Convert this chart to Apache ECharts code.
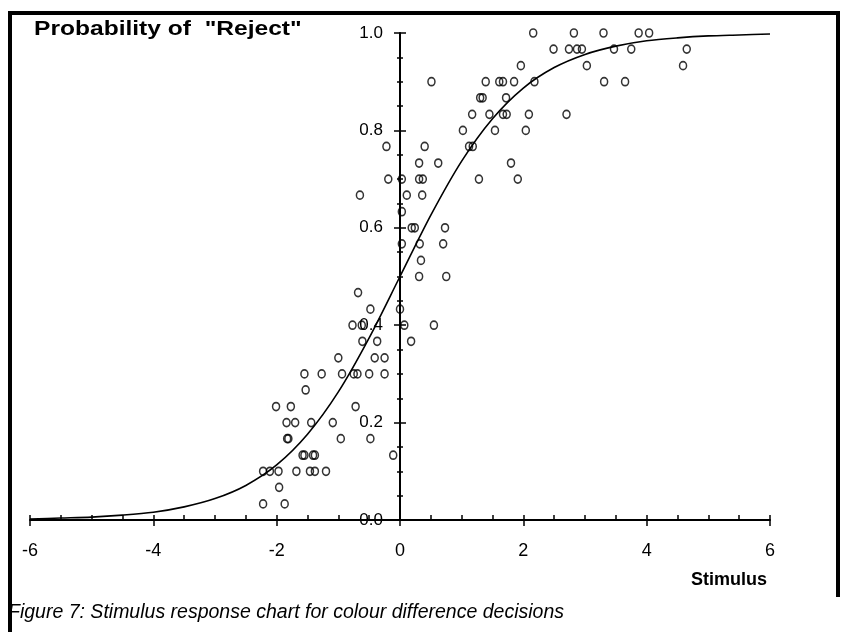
<!DOCTYPE html>
<html>
<head>
<meta charset="utf-8">
<script src="https://cdn.jsdelivr.net/npm/echarts@6/dist/echarts.min.js"></script>
<style>
  html, body { margin: 0; padding: 0; background: #fff; }
  #chart { width: 845px; height: 632px; }
</style>
</head>
<body>
<div id="chart"></div>
<script>
// observed proportions of "reject" answers, [stimulus, proportion]
var observed = [
    [-2.22, 0.033], [-1.87, 0.033],
    [-1.96, 0.067],
    [-2.22, 0.1], [-2.11, 0.1], [-1.97, 0.1], [-1.68, 0.1], [-1.46, 0.1], [-1.38, 0.1], [-1.2, 0.1],
    [-1.58, 0.133], [-1.55, 0.133], [-1.41, 0.133], [-1.38, 0.133], [-0.11, 0.133],
    [-1.83, 0.167], [-1.81, 0.167], [-0.96, 0.167], [-0.48, 0.167],
    [-1.84, 0.2], [-1.7, 0.2], [-1.44, 0.2], [-1.09, 0.2],
    [-2.01, 0.233], [-1.77, 0.233], [-0.72, 0.233],
    [-1.53, 0.267],
    [-1.55, 0.3], [-1.27, 0.3], [-0.94, 0.3], [-0.75, 0.3], [-0.69, 0.3], [-0.5, 0.3], [-0.25, 0.3],
    [-1.0, 0.333], [-0.41, 0.333], [-0.25, 0.333],
    [-0.61, 0.367], [-0.37, 0.367], [0.18, 0.367],
    [-0.77, 0.4], [-0.62, 0.4], [0.07, 0.4], [0.55, 0.4],
    [-0.48, 0.433], [0.0, 0.433],
    [-0.68, 0.467],
    [0.31, 0.5], [0.75, 0.5],
    [0.34, 0.533],
    [0.03, 0.567], [0.32, 0.567], [0.7, 0.567],
    [0.19, 0.6], [0.24, 0.6], [0.73, 0.6],
    [0.03, 0.633],
    [-0.65, 0.667], [0.11, 0.667], [0.36, 0.667],
    [-0.19, 0.7], [0.03, 0.7], [0.31, 0.7], [0.37, 0.7], [1.28, 0.7], [1.91, 0.7],
    [0.31, 0.733], [0.62, 0.733], [1.8, 0.733],
    [-0.22, 0.767], [0.4, 0.767], [1.12, 0.767], [1.18, 0.767],
    [1.02, 0.8], [1.54, 0.8], [2.04, 0.8],
    [1.17, 0.833], [1.45, 0.833], [1.67, 0.833], [1.73, 0.833], [2.09, 0.833], [2.7, 0.833],
    [1.3, 0.867], [1.34, 0.867], [1.72, 0.867],
    [0.51, 0.9], [1.39, 0.9], [1.61, 0.9], [1.67, 0.9], [1.85, 0.9], [2.18, 0.9], [3.31, 0.9], [3.65, 0.9],
    [1.96, 0.933], [3.03, 0.933], [4.59, 0.933],
    [2.49, 0.967], [2.74, 0.967], [2.87, 0.967], [2.95, 0.967], [3.47, 0.967], [3.75, 0.967], [4.65, 0.967],
    [2.16, 1.0], [2.82, 1.0], [3.3, 1.0], [3.87, 1.0], [4.04, 1.0]
];

// fitted response curve
var curveX = [-6, -5.5, -5, -4.5, -4, -3.5, -3, -2.5, -2, -1.5, -1, -0.5, 0,
    0.5, 1, 1.5, 2, 2.5, 3, 3.5, 4, 4.5, 5, 5.5, 6];
var curveP = [0.002, 0.004, 0.006, 0.01, 0.016, 0.027, 0.044, 0.071, 0.113, 0.176, 0.263, 0.374, 0.5,
    0.626, 0.737, 0.824, 0.887, 0.929, 0.956, 0.973, 0.984, 0.99, 0.994, 0.996, 0.998];

var xTicks = [-6, -4, -2, 0, 2, 4, 6];
var yTicks = ['0.0', '0.2', '0.4', '0.6', '0.8', '1.0'];

var chart = echarts.init(document.getElementById('chart'), null, {renderer: 'canvas'});

var font = '"Liberation Sans", Arial, sans-serif';
var black = '#000';
var gridLeft = 30, gridRight = 75;
// y axis drawn at stimulus 0, i.e. in the middle of the plot
var yShift = -(845 - gridLeft - gridRight) / 2;

var option = {
    animation: false,
    backgroundColor: '#fff',
    grid: {left: gridLeft, right: gridRight, top: 33, bottom: 112, containLabel: false},
    xAxis: [
        {
            type: 'value', min: xTicks[0], max: xTicks[xTicks.length - 1], interval: 2,
            position: 'bottom',
            axisLine: {onZero: false, lineStyle: {color: black, width: 2}},
            axisTick: {inside: false, length: 6, lineStyle: {color: black, width: 1.5}},
            axisLabel: {color: black, fontSize: 18, fontFamily: font, margin: 22},
            splitLine: {show: false}
        },
        {
            // small ticks above the axis line
            type: 'value', min: -6, max: 6, interval: 0.5,
            position: 'bottom',
            axisLine: {show: false, onZero: false},
            axisTick: {inside: true, length: 5, lineStyle: {color: black, width: 1.5}},
            axisLabel: {show: false},
            splitLine: {show: false}
        }
    ],
    yAxis: [
        {
            type: 'value', min: 0, max: 1, interval: 0.2,
            position: 'left', offset: yShift,
            axisLine: {onZero: false, lineStyle: {color: black, width: 2}},
            axisTick: {inside: false, length: 6, lineStyle: {color: black, width: 1.5}},
            minorTick: {show: true, splitNumber: 4, length: 3, lineStyle: {color: black, width: 1.5}},
            axisLabel: {
                color: black, fontSize: 17, fontFamily: font, margin: 17,
                formatter: function (v) { return yTicks[Math.round(v * 5)]; }
            },
            splitLine: {show: false}
        },
        {
            type: 'value', min: 0, max: 1, interval: 0.2,
            position: 'left', offset: yShift,
            axisLine: {show: false, onZero: false},
            axisTick: {inside: true, length: 6, lineStyle: {color: black, width: 1.5}},
            minorTick: {show: true, splitNumber: 4, length: 3, lineStyle: {color: black, width: 1.5}},
            axisLabel: {show: false},
            splitLine: {show: false}
        }
    ],
    series: [
        {
            type: 'line',
            data: curveX.map(function (x, i) { return [x, curveP[i]]; }),
            smooth: 0.3,
            showSymbol: false,
            lineStyle: {color: black, width: 1.6},
            z: 3
        },
        {
            type: 'scatter',
            data: observed,
            symbol: 'circle',
            symbolSize: [7, 8],
            itemStyle: {color: 'rgba(0,0,0,0)', borderColor: black, borderWidth: 1.6},
            z: 4
        }
    ],
    graphic: [
        // frame
        {type: 'rect', shape: {x: 8, y: 11, width: 4, height: 621}, style: {fill: black}},
        {type: 'rect', shape: {x: 8, y: 11, width: 832, height: 4}, style: {fill: black}},
        {type: 'rect', shape: {x: 836, y: 11, width: 4, height: 586}, style: {fill: black}},
        {
            type: 'text', x: 34, y: 19, scaleX: 1.17,
            style: {text: 'Probability of  "Reject"', font: 'bold 21px ' + font, fill: black}
        },
        {
            type: 'text', right: 78, top: 571,
            style: {text: 'Stimulus', font: 'bold 18px ' + font, fill: black}
        },
        {
            type: 'text', left: 8, top: 603,
            style: {text: 'Figure 7: Stimulus response chart for colour difference decisions',
                font: 'italic 19.5px ' + font, fill: black}
        }
    ]
};
chart.setOption(option);
</script>
</body>
</html>
